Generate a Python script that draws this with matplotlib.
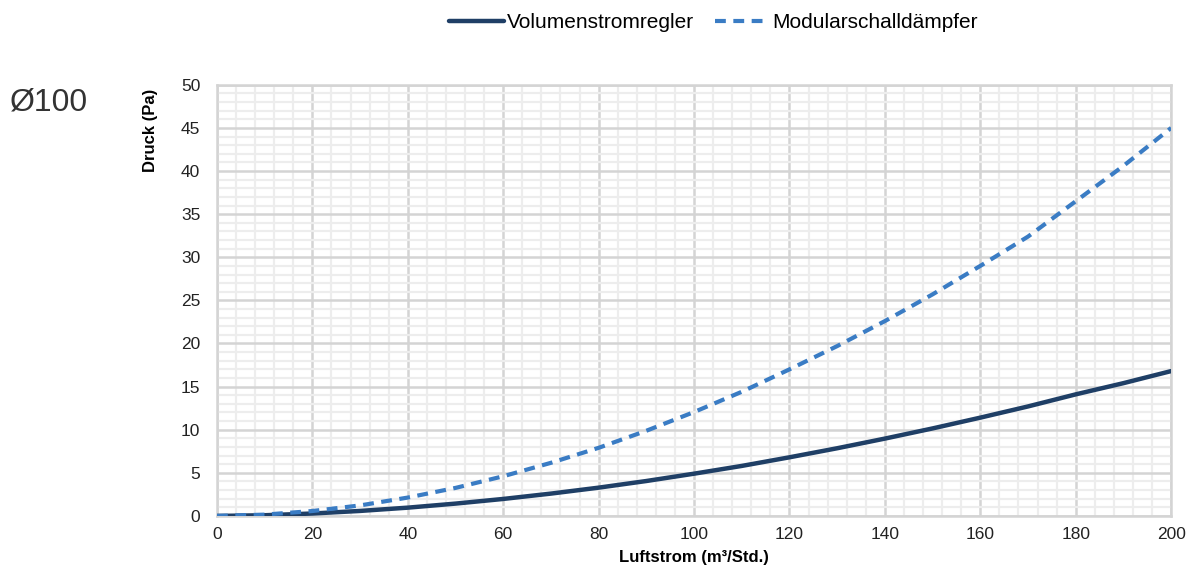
import numpy as np
import matplotlib.pyplot as plt
from matplotlib.ticker import MultipleLocator

# Luftstrom (m³/Std.) and Druck (Pa) values
luftstrom = [0, 10, 20, 30, 40, 50, 60, 70, 80, 90, 100,
             110, 120, 130, 140, 150, 160, 170, 180, 190, 200]
volumenstromregler = [0, 0.08, 0.28, 0.58, 0.96, 1.43, 1.97, 2.59, 3.28, 4.05, 4.9,
                      5.8, 6.8, 7.85, 8.97, 10.15, 11.4, 12.7, 14.1, 15.4, 16.8]
modularschalldaempfer = [0, 0.15, 0.57, 1.22, 2.13, 3.25, 4.6, 6.16, 7.9, 9.88, 12.05,
                         14.4, 17.0, 19.7, 22.6, 25.7, 29.0, 32.4, 36.5, 40.6, 45.0]

plt.rcParams['font.family'] = ['Liberation Sans', 'DejaVu Sans']

fig = plt.figure(figsize=(11.89, 5.81), dpi=100)
ax = fig.add_axes([0.1825, 0.112, 0.8025, 0.742])

ax.plot(luftstrom, volumenstromregler, color='#1f3f66', lw=3.2,
        label='Volumenstromregler', solid_capstyle='round', zorder=3)
ax.plot(luftstrom, modularschalldaempfer, color='#3a7cc4', lw=3.0, ls=(0, (2.6, 1.8)),
        label='Modularschalldämpfer', zorder=3)

ax.set_xlim(0, 200)
ax.set_ylim(0, 50)
ax.xaxis.set_major_locator(MultipleLocator(20))
ax.xaxis.set_minor_locator(MultipleLocator(4))
ax.yaxis.set_major_locator(MultipleLocator(5))
ax.yaxis.set_minor_locator(MultipleLocator(1))
ax.grid(which='minor', color='#ededed', lw=1.6)
ax.grid(which='major', color='#d4d4d4', lw=1.8)
ax.set_axisbelow(True)
for s in ax.spines.values():
    s.set_color('#d4d4d4')
    s.set_linewidth(1.8)
ax.tick_params(which='both', length=0, labelsize=12.5, colors='#222222')
ax.tick_params(axis='x', pad=8)
ax.tick_params(axis='y', pad=12)

ax.set_xlabel('Luftstrom (m³/Std.)', fontsize=12, fontweight='bold', labelpad=6)
ax.set_ylabel('Druck (Pa)', fontsize=12, fontweight='bold', labelpad=8)
ax.yaxis.set_label_coords(-0.062, 0.895)

fig.text(0.008, 0.81, 'Ø100', fontsize=23, color='#333333')

fig.legend(loc='upper center', bbox_to_anchor=(0.6, 1.01), ncol=2, frameon=False,
           fontsize=15, handlelength=2.6, handletextpad=0.15, columnspacing=1.0)

fig.savefig('out.png', dpi=100)
